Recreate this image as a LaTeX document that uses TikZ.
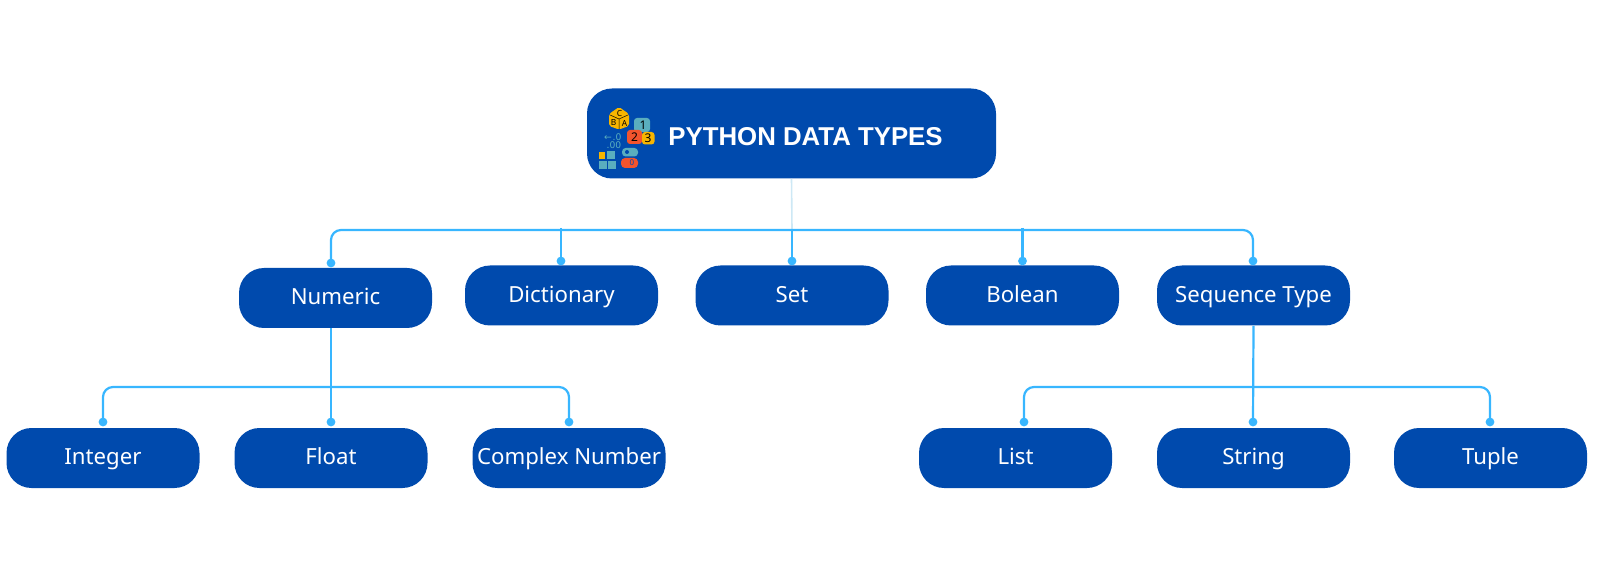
\documentclass[tikz,border=0pt]{standalone}
\usepackage{fontspec}
\setmainfont{Noto Sans}
\newfontfamily\titlefont{Liberation Sans}
\newfontfamily\symfont{DejaVu Sans}
\definecolor{boxblue}{HTML}{004AAD}
\definecolor{linkblue}{HTML}{38B6FF}
\definecolor{paleline}{HTML}{CDE8F5}
\definecolor{iconyellow}{HTML}{F7B500}
\definecolor{iconteal}{HTML}{5AAEBE}
\definecolor{iconred}{HTML}{F2542D}
\tikzset{
  x=0.5pt,y=-0.5pt,
  typebox/.style={fill=boxblue,draw=none,rounded corners=12.5pt,minimum width=96.5pt,minimum height=30pt,inner sep=0pt,text=white,text height=9pt,text depth=2pt,font=\fontsize{11.1pt}{13pt}\selectfont},
  rootbox/.style={fill=boxblue,draw=none,rounded corners=12.5pt,minimum width=204.5pt,minimum height=45pt,inner sep=0pt},
  titletext/.style={text=white,font=\titlefont\bfseries\fontsize{12.9pt}{16pt}\selectfont,inner sep=0pt,anchor=west},
  link/.style={draw=linkblue,line width=1.1pt,rounded corners=5pt},
  dot/.style={circle,fill=linkblue,draw=none,minimum size=4.4pt,inner sep=0pt},
  icontext/.style={font=\fontsize{4.2pt}{5pt}\selectfont,text=black,inner sep=0pt},
  icondigit/.style={font=\fontsize{6pt}{7pt}\selectfont,text=black,inner sep=0pt},
  iconfaint/.style={font=\symfont\fontsize{4.6pt}{5pt}\selectfont,text=iconteal,inner sep=0pt},
}
\begin{document}
\begin{tikzpicture}
\useasboundingbox (0,0) rectangle (1600,566);
\node[rootbox] (root) at (791.5,133.5) {};
\node[titletext] (title) at (668,137) {PYTHON DATA TYPES};
% icon
\fill[iconyellow,rounded corners=1pt] (619,107) -- (629,114) -- (629,126) -- (619,129.5) -- (609,126) -- (609,114) -- cycle;
\draw[black,line width=0.25pt] (619,119) -- (610,115) (619,119) -- (628,115) (619,119) -- (619,129);
\node[icontext] (ic) at (619.5,113.5) {C};
\node[icontext] (ib) at (613.5,123) {B};
\node[icontext] (ia) at (624.5,123) {A};
\fill[iconteal,rounded corners=1.5pt] (634,118) rectangle (650,132);
\node[icondigit] (i1) at (643,125) {1};
\fill[iconred,rounded corners=1.5pt] (627,130) rectangle (642,144);
\node[icondigit] (i2) at (634.5,137) {2};
\fill[iconyellow,rounded corners=1.5pt] (642,132) rectangle (654.5,144.5);
\node[icondigit] (i3) at (648,138.5) {3};
\node[iconfaint] (arr) at (608,138) {←};
\node[iconfaint] (pz) at (617,137) {.0};
\node[iconfaint] (zz) at (614,145) {.00};
\fill[iconyellow] (599,152) rectangle (605,159);
\fill[iconteal] (607,151) rectangle (614.5,159);
\fill[iconteal] (599,161) rectangle (606.5,169);
\fill[iconteal] (607.5,161) rectangle (616,169);
\fill[iconteal,rounded corners=1.8pt] (622,148) rectangle (638,156.5);
\fill[boxblue] (627,152) circle (1pt);
\fill[iconred,rounded corners=2pt] (621,158) rectangle (638,168);
\node[font=\fontsize{4pt}{5pt}\selectfont,text=boxblue,inner sep=0pt] (iz) at (632,163) {0};
% boxes
\foreach \n/\t/\cx/\cy in {
  num/Numeric/335.5/298, dic/Dictionary/561.5/295.5, set/Set/792/295.5,
  bol/Bolean/1022.5/295.5, seq/Sequence Type/1253.5/295.5,
  int/Integer/103/458, flo/Float/331/458, com/Complex Number/569/458,
  lis/List/1015.5/458, str/String/1253.5/458, tup/Tuple/1490.5/458}
  {\node[typebox] (\n) at (\cx,\cy) {\t};}
% junctions and dots
\coordinate (hb) at (792,230);
\coordinate (hl) at (792,387);
\node[dot] (dnum) at (331,263) {};
\node[dot] (ddic) at (561,261) {};
\node[dot] (dset) at (792,261) {};
\node[dot] (dbol) at (1022.5,261) {};
\node[dot] (dseq) at (1253,261) {};
\node[dot] (dint) at (103,422) {};
\node[dot] (dflo) at (331,422) {};
\node[dot] (dcom) at (569,422) {};
\node[dot] (dlis) at (1024,422) {};
\node[dot] (dstr) at (1253,422) {};
\node[dot] (dtup) at (1490,422) {};
% connectors
\draw[paleline,line width=0.8pt] (root.south) -- (hb);
\draw[link] (dnum.center) -- (dnum.center |- hb) -- (dseq.center |- hb) -- (dseq.center);
\draw[link] (ddic.center |- hb) ++(0,-2) -- (ddic.center);
\draw[link] (hb) -- (dset.center);
\draw[link] (dbol.center |- hb) ++(0,-2) -- (dbol.center);
\draw[link] (dflo.center |- num.south) -- (dflo.center);
\draw[link] (dint.center) -- (dint.center |- hl) -- (dcom.center |- hl) -- (dcom.center);
\draw[link] (seq.south) -- (dstr.center);
\draw[link] (dlis.center) -- (dlis.center |- hl) -- (dtup.center |- hl) -- (dtup.center);
\end{tikzpicture}
\end{document}
